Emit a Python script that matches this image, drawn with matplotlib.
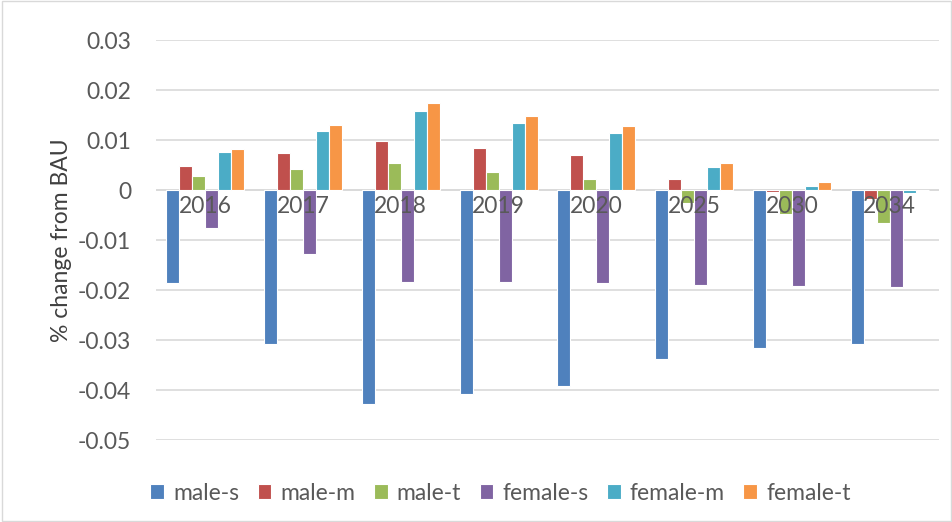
import matplotlib
matplotlib.use("Agg")
import matplotlib.pyplot as plt
import numpy as np

plt.rcParams['font.family'] = ['Lato', 'DejaVu Sans']

years = ["2016", "2017", "2018", "2019", "2020", "2025", "2030", "2034"]
series = ["male-s", "male-m", "male-t", "female-s", "female-m", "female-t"]
male_s = [-0.0186, -0.0308, -0.0428, -0.0408, -0.0391, -0.0338, -0.0315, -0.0307]
male_m = [0.0048, 0.0075, 0.0099, 0.0085, 0.0071, 0.0022, -0.0003, -0.0017]
male_t = [0.0029, 0.0043, 0.0054, 0.0037, 0.0022, -0.0026, -0.0048, -0.0065]
female_s = [-0.0076, -0.0128, -0.0184, -0.0184, -0.0185, -0.0189, -0.0192, -0.0194]
female_m = [0.0076, 0.0119, 0.0158, 0.0135, 0.0114, 0.0047, 0.0009, -0.0005]
female_t = [0.0082, 0.0130, 0.0175, 0.0149, 0.0128, 0.0055, 0.0017, 0.0001]
values = [male_s, male_m, male_t, female_s, female_m, female_t]
colors = ["#4F81BD", "#C0504D", "#9BBB59", "#8064A2", "#4BACC6", "#F79646"]

fig = plt.figure(figsize=(9.53, 5.22), dpi=100)
ax = fig.add_axes([0.164, 0.157, 0.821, 0.766])
x = np.arange(len(years))
w = 0.133
for i, (s, v, c) in enumerate(zip(series, values, colors)):
    ax.bar(x + (i - 2.5) * w, v, w, color=c, label=s, zorder=3, edgecolor="white", linewidth=0.8)
ax.set_ylim(-0.05, 0.03)
ax.set_yticks(np.arange(-0.05, 0.031, 0.01))
ax.set_yticklabels(["-0.05", "-0.04", "-0.03", "-0.02", "-0.01", "0", "0.01", "0.02", "0.03"])
ax.set_xlim(-0.5, len(years) - 0.5)
ax.grid(axis="y", color="#D9D9D9", lw=1.2, zorder=0)
ax.axhline(0, color="#D9D9D9", lw=1.2, zorder=2)
for sp in ax.spines.values():
    sp.set_visible(False)
ax.tick_params(length=0, labelsize=16.5, colors="#595959", pad=18)
ax.set_xticks([])
for xi, yr in zip(x, years):
    ax.text(xi, -0.0012, yr, ha="center", va="top", fontsize=16.5, color="#595959", zorder=4)
ax.set_ylabel("% change from BAU", fontsize=16.5, color="#404040", labelpad=4)
ax.legend(loc="upper center", bbox_to_anchor=(0.44, -0.055), ncol=6, frameon=False,
          fontsize=16.5, handlelength=0.6, handleheight=0.6, columnspacing=0.8, handletextpad=0.4,
          labelcolor="#595959")
fig.patches.append(plt.Rectangle((0.002, 0.002), 0.996, 0.996, transform=fig.transFigure,
                                 fill=False, edgecolor="#D9D9D9", lw=1))
fig.savefig("out.png", dpi=100)
